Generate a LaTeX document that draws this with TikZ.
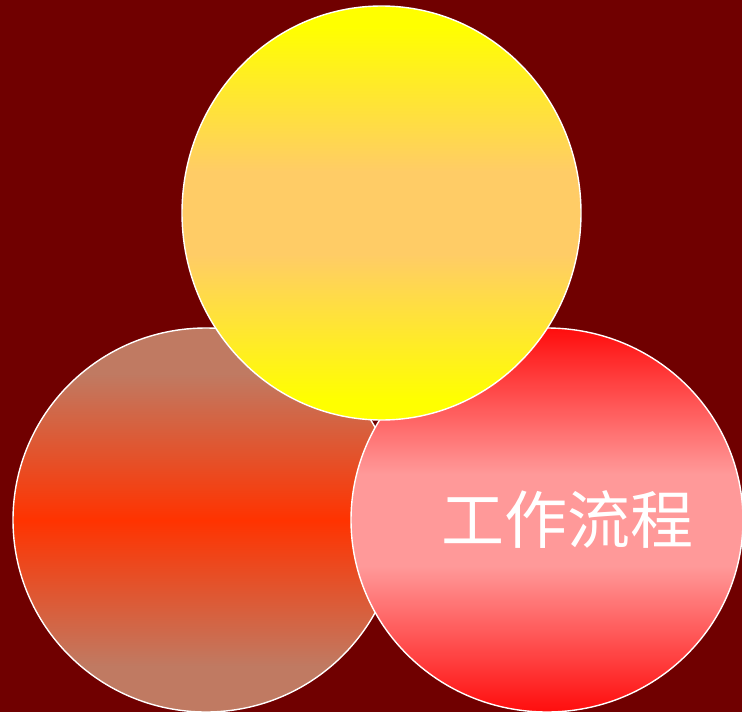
\documentclass[tikz,border=0pt]{standalone}
\usepackage{fontspec}
\newfontfamily\cjk{Noto Sans CJK SC}
\usetikzlibrary{shapes.geometric}
\definecolor{bg}{RGB}{112,0,0}
\pgfdeclareverticalshading{leftshade}{100bp}{
  rgb(0bp)=(0.753,0.478,0.384); rgb(25bp)=(0.753,0.478,0.384); rgb(31bp)=(0.753,0.478,0.384);
  rgb(50bp)=(1,0.2,0); rgb(69bp)=(0.753,0.478,0.384); rgb(75bp)=(0.753,0.478,0.384); rgb(100bp)=(0.753,0.478,0.384)}
\pgfdeclareverticalshading{rightshade}{100bp}{
  rgb(0bp)=(1,0.05,0.05); rgb(25bp)=(1,0.05,0.05); rgb(44bp)=(1,0.6,0.6);
  rgb(56bp)=(1,0.6,0.6); rgb(75bp)=(1,0.05,0.05); rgb(100bp)=(1,0.05,0.05)}
\pgfdeclareverticalshading{yelshade}{100bp}{
  rgb(0bp)=(1,1,0); rgb(27.5bp)=(1,1,0); rgb(45bp)=(1,0.8,0.4);
  rgb(55bp)=(1,0.8,0.4); rgb(72.5bp)=(1,1,0); rgb(100bp)=(1,1,0)}
\tikzset{
  ball/.style={ellipse, draw=white, line width=1.4pt, inner sep=0pt, shade},
}
\begin{document}
\begin{tikzpicture}[x=1pt,y=-1pt]
  \fill[bg] (0,0) rectangle (742,712);
  \useasboundingbox (0,0) rectangle (742,712);
  \node[ball, shading=leftshade, minimum width=386pt, minimum height=384pt] (left) at (206,520) {};
  \node[ball, shading=rightshade, minimum width=392pt, minimum height=384pt] (right) at (547,520) {};
  \node[ball, shading=yelshade, minimum width=399pt, minimum height=414pt] (top) at (381.5,213) {};
  \node[text=white, font=\cjk\fontsize{63}{63}\selectfont, inner sep=0pt] (label) at (567,520) {工作流程};
\end{tikzpicture}
\end{document}
